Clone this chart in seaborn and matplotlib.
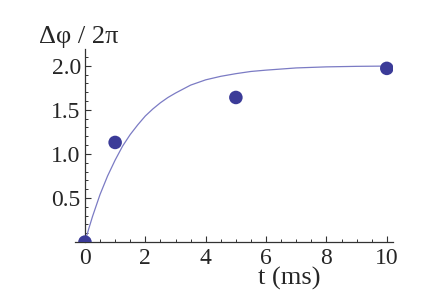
import numpy as np
import pandas as pd
import matplotlib
matplotlib.use("Agg")
from matplotlib import pyplot as plt
from matplotlib.ticker import MultipleLocator, FixedLocator
import seaborn as sns

# measured points
t_meas = [0, 1, 5, 10]
phase_meas = [0.0, 1.13, 1.64, 1.97]

# fitted curve
t_fit = [0, 0.125, 0.25, 0.5, 0.75, 1, 1.25, 1.5, 1.75, 2, 2.25, 2.5, 2.75, 3,
         3.5, 4, 4.5, 5, 5.5, 6, 7, 8, 9, 10]
phase_fit = [0, 0.15, 0.29, 0.54, 0.75, 0.93, 1.09, 1.22, 1.33, 1.43, 1.51,
             1.58, 1.64, 1.69, 1.78, 1.84, 1.88, 1.91, 1.935, 1.95, 1.975,
             1.987, 1.993, 1.996]

y_ticks = [0.5, 1.0, 1.5, 2.0]
x_ticks = [0, 2, 4, 6, 8, 10]

sns.set_style("ticks")
plt.rcParams['font.family'] = 'serif'
plt.rcParams['font.serif'] = ['Liberation Serif', 'DejaVu Serif']

fig = plt.figure(figsize=(4.36, 3.08), dpi=100)
ax = fig.add_axes([0.172, 0.214, 0.729, 0.627])

df_fit = pd.DataFrame({'t': t_fit, 'phase': phase_fit})
df_meas = pd.DataFrame({'t': t_meas, 'phase': phase_meas})

sns.lineplot(data=df_fit, x='t', y='phase', ax=ax, color='#7b7bc4', linewidth=0.9)
sns.scatterplot(data=df_meas, x='t', y='phase', ax=ax, color='#3b3b98',
                s=95, edgecolor='none', zorder=3)

ax.set_xlim(-0.33, 10.2)
ax.set_ylim(0, 2.19)

# axes cross at the origin like Mathematica
ax.spines['left'].set_position(('data', 0))
ax.spines['top'].set_visible(False)
ax.spines['right'].set_visible(False)
for s in ['left', 'bottom']:
    ax.spines[s].set_color('#333333')
    ax.spines[s].set_linewidth(0.9)

ax.xaxis.set_major_locator(FixedLocator(x_ticks))
ax.xaxis.set_minor_locator(MultipleLocator(0.5))
ax.yaxis.set_major_locator(FixedLocator(y_ticks))
ax.yaxis.set_minor_locator(MultipleLocator(0.1))
ax.set_yticklabels(['%.1f' % v for v in y_ticks])
ax.set_xticklabels([str(v) for v in x_ticks])

ax.tick_params(which='major', direction='in', length=4.5, width=0.8,
               color='#333333', labelsize=17, pad=3,
               labelfontfamily='Liberation Serif')
ax.tick_params(which='minor', direction='in', length=2.5, width=0.7,
               color='#333333')
ax.tick_params(axis='x', which='major', pad=4)

ax.set_xlabel('')
ax.set_ylabel('')

fig.text(0.181, 0.88, 'Δφ / 2π', ha='center', va='center', fontsize=19)
fig.text(0.663, 0.097, 't (ms)', ha='center', va='center', fontsize=19)

fig.savefig('out.png', dpi=100)
